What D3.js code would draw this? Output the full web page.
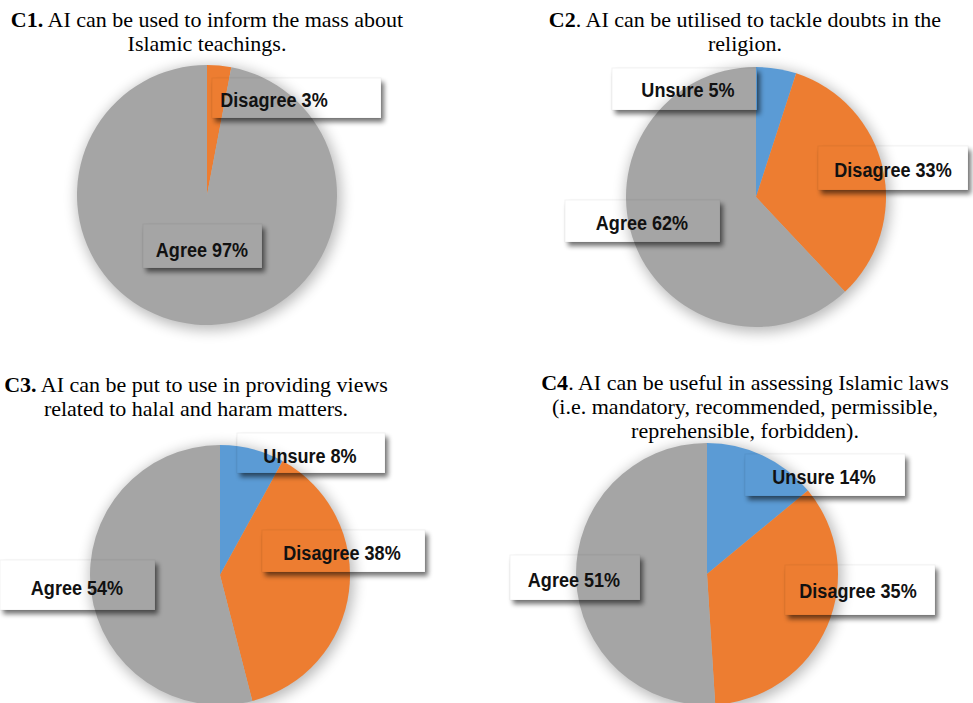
<!DOCTYPE html>
<html>
<head>
<meta charset="utf-8">
<script src="https://cdn.jsdelivr.net/npm/d3@7"></script>
<style>
  body { margin: 0; background: #fff; }
  svg { display: block; }
</style>
</head>
<body>
<svg id="chart"></svg>
<script>
// data
const categories = ['Unsure', 'Disagree', 'Agree']
const colors = ['#5B9BD5', '#ED7D31', '#A5A5A5']
const c1Values = [0, 3, 97]
const c2Values = [5, 33, 62]
const c3Values = [8, 38, 54]
const c4Values = [14, 35, 51]
const titleCodes = ['C1.', 'C2', 'C3.', 'C4']
const titleLines = [
    [' AI can be used to inform the mass about', 'Islamic teachings.'],
    ['. AI can be utilised to tackle doubts in the', 'religion.'],
    [' AI can be put to use in providing views', 'related to halal and haram matters.'],
    ['. AI can be useful in assessing Islamic laws', '(i.e. mandatory, recommended, permissible,', 'reprehensible, forbidden).']
]

// layout for each panel: box = [x, y, w, h, textX, textY] relative to pie centre
const panels = [
    { values: c1Values, cx: 207, cy: 195, r: 130, tx: 207, ty: 27,
      boxes: [null, [5, -117, 169, 40, 67, -96], [-64, 29, 119, 44, -5, 54]] },
    { values: c2Values, cx: 756, cy: 197, r: 130, tx: 745, ty: 27,
      boxes: [[-144, -129, 145, 42, -68, -108], [62, -51, 150, 44, 137, -28], [-191, 3, 155, 42, -114, 25]] },
    { values: c3Values, cx: 220, cy: 575, r: 130, tx: 196, ty: 392,
      boxes: [[17, -142, 148, 40, 90, -120], [42, -45, 163, 42, 122, -23], [-220, -15, 155, 50, -143, 12]] },
    { values: c4Values, cx: 707, cy: 574, r: 131, tx: 745, ty: 390,
      boxes: [[38, -120, 160, 42, 117, -98], [78, -9, 150, 50, 151, 16], [-197, -19, 130, 45, -133, 5]] }
]

const W = 973, H = 703
const svg = d3.select('#chart').attr('width', W).attr('height', H)
const defs = svg.append('defs')

defs.append('filter').attr('id', 'pieGlow')
    .attr('x', '-30%').attr('y', '-30%').attr('width', '160%').attr('height', '160%')
    .append('feGaussianBlur').attr('stdDeviation', 7)
defs.append('filter').attr('id', 'boxBlur')
    .attr('x', '-20%').attr('y', '-40%').attr('width', '140%').attr('height', '180%')
    .append('feGaussianBlur').attr('stdDeviation', 2.5)

const pie = d3.pie().sort(null).value(d => d)

panels.forEach((p, idx) => {
    const g = svg.append('g').attr('transform', `translate(${p.cx},${p.cy})`)
    const arc = d3.arc().innerRadius(0).outerRadius(p.r)

    // soft shadow round the pie
    g.append('circle')
        .attr('cx', 2).attr('cy', 3).attr('r', p.r + 2)
        .attr('fill', '#000').attr('opacity', 0.28)
        .attr('filter', 'url(#pieGlow)')

    g.selectAll('path.slice')
        .data(pie(p.values))
        .join('path')
        .attr('class', 'slice')
        .attr('d', arc)
        .attr('fill', (d, i) => colors[i])

    // label boxes: transparent body, shadow only to the outside
    p.values.forEach((v, i) => {
        const b = p.boxes[i]
        if (!b || v === 0) return
        const [bx, by, bw, bh, lx, ly] = b
        const maskId = `m${idx}_${i}`
        const mask = defs.append('mask').attr('id', maskId)
            .attr('maskUnits', 'userSpaceOnUse')
            .attr('x', -2000).attr('y', -2000).attr('width', 4000).attr('height', 4000)
        mask.append('rect').attr('x', -2000).attr('y', -2000).attr('width', 4000).attr('height', 4000).attr('fill', '#fff')
        mask.append('rect').attr('x', bx).attr('y', by).attr('width', bw).attr('height', bh).attr('fill', '#000')

        g.append('g').attr('mask', `url(#${maskId})`)
            .append('rect')
            .attr('x', bx + 3).attr('y', by + 4).attr('width', bw).attr('height', bh)
            .attr('fill', '#000').attr('opacity', 0.55)
            .attr('filter', 'url(#boxBlur)')

        g.append('rect')
            .attr('x', bx).attr('y', by).attr('width', bw).attr('height', bh)
            .attr('fill', 'none').attr('stroke', '#000').attr('stroke-opacity', 0.05)

        g.append('text')
            .attr('transform', `translate(${lx},${ly + 7.5}) scale(0.86,1)`)
            .attr('text-anchor', 'middle')
            .style('font-family', '"Liberation Sans", Arial, sans-serif')
            .style('font-weight', 'bold')
            .style('font-size', '21px')
            .attr('fill', '#111')
            .text(`${categories[i]} ${v}%`)
    })

    // title
    const t = svg.append('text')
        .attr('x', p.tx).attr('y', p.ty)
        .attr('text-anchor', 'middle')
        .style('font-family', '"Liberation Serif", "Times New Roman", serif')
        .style('font-size', '22px')
        .attr('fill', '#000')
    titleLines[idx].forEach((line, li) => {
        const ts = t.append('tspan').attr('x', p.tx).attr('dy', li === 0 ? 0 : 24)
        if (li === 0) {
            ts.append('tspan').style('font-weight', 'bold').text(titleCodes[idx])
            ts.append('tspan').text(line)
        } else {
            ts.text(line)
        }
    })
})
</script>
</body>
</html>
